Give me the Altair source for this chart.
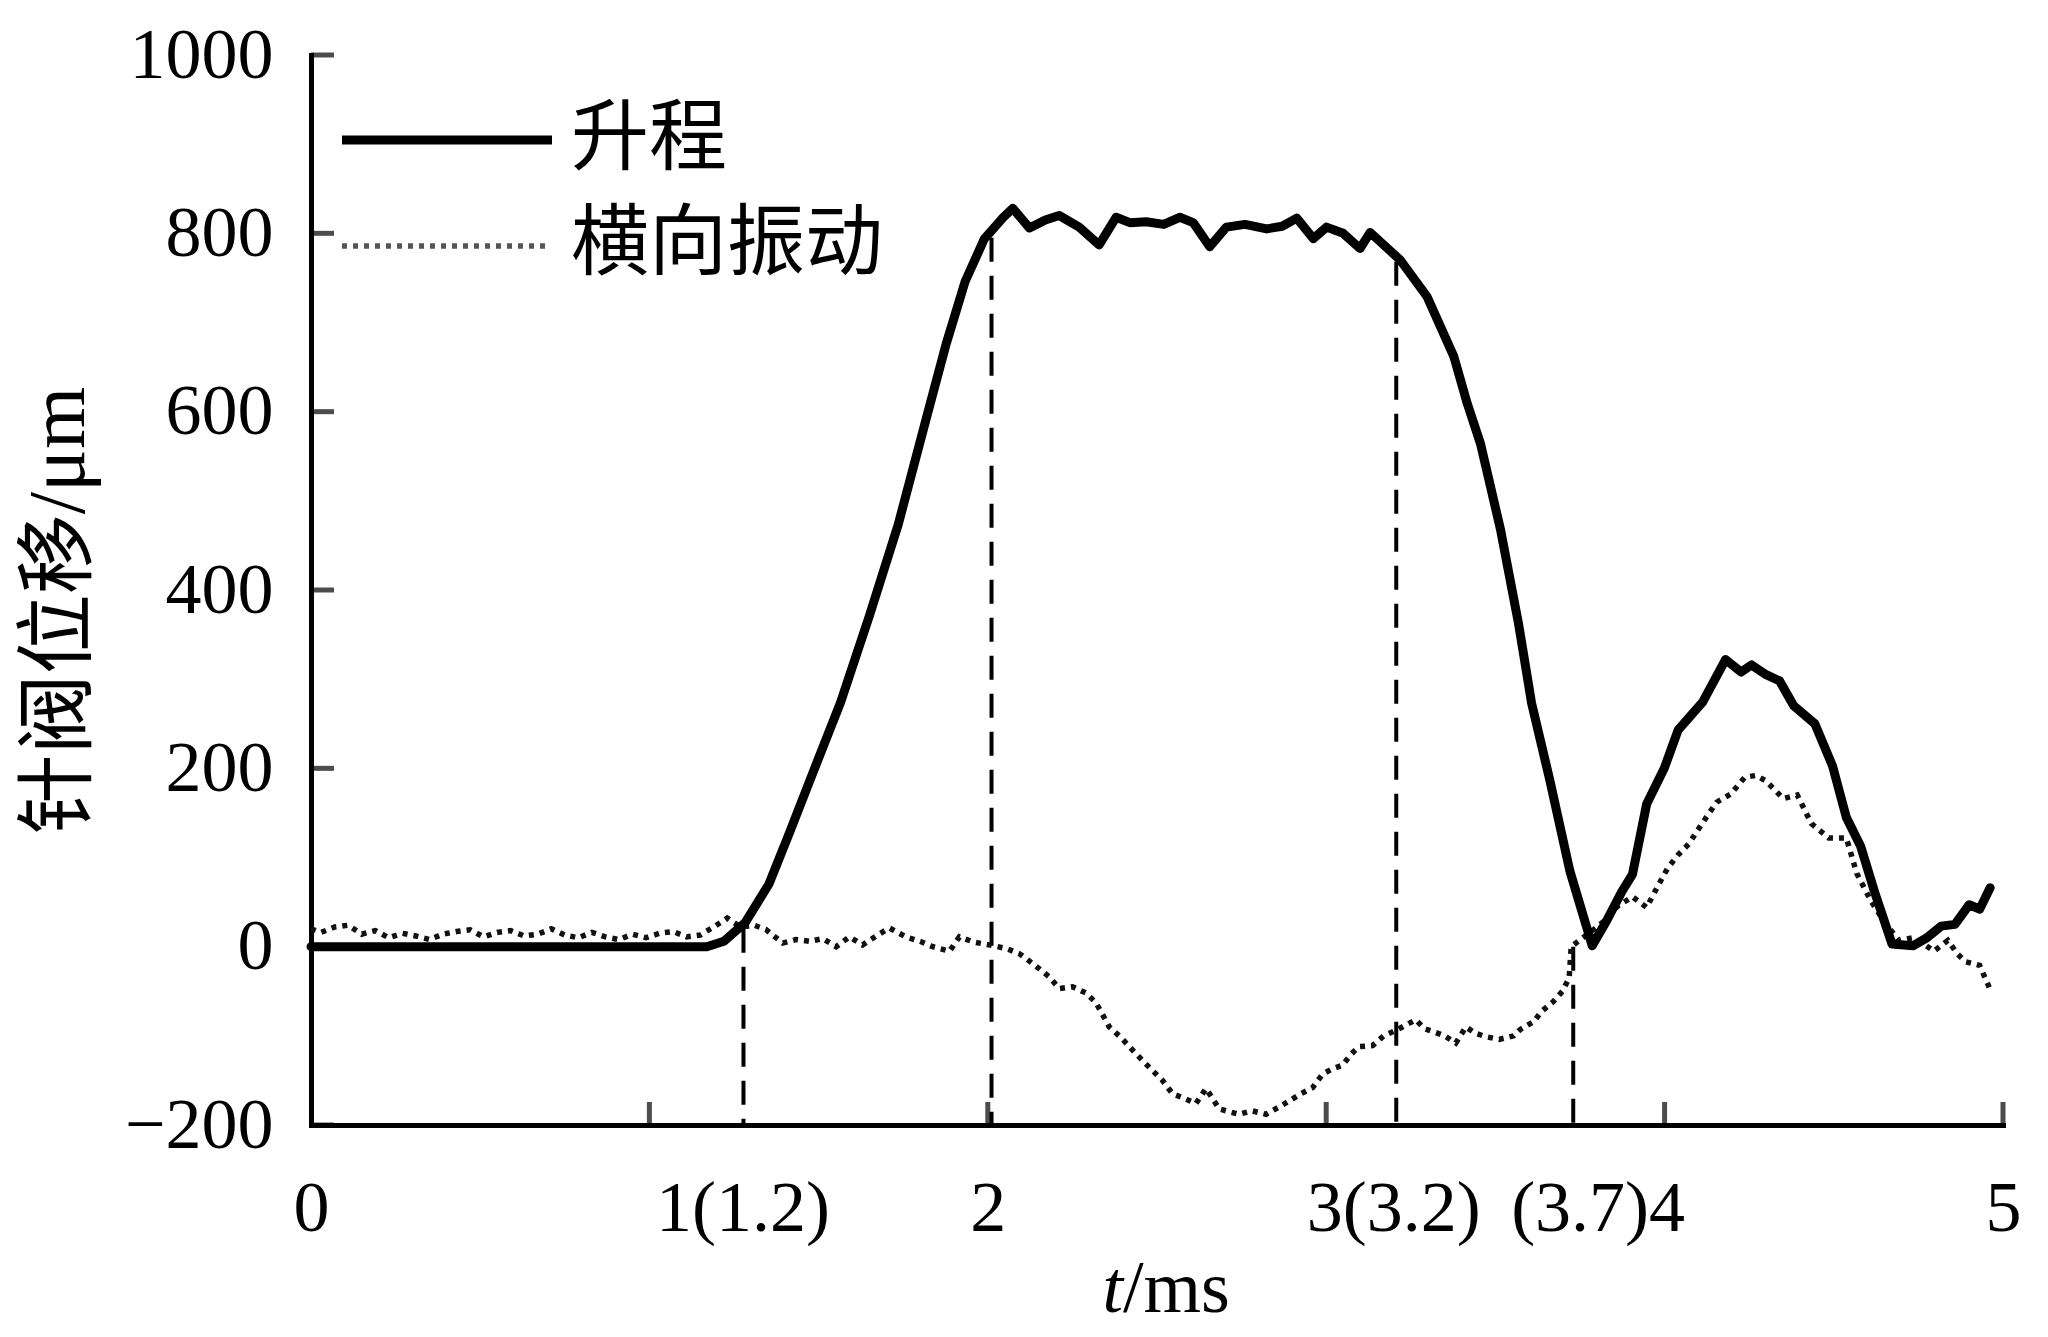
import altair as alt
import pandas as pd

# ---- data ----
lift_t = [0.00, 0.50, 1.00, 1.17, 1.22, 1.283, 1.353, 1.41, 1.481, 1.565, 1.65, 1.735,
          1.82, 1.877, 1.933, 1.99, 2.046, 2.074, 2.123, 2.17, 2.211, 2.27, 2.329, 2.379,
          2.42, 2.468, 2.52, 2.567, 2.607, 2.656, 2.705, 2.76, 2.824, 2.87, 2.913, 2.962,
          3.001, 3.05, 3.10, 3.13, 3.219, 3.298, 3.377, 3.417, 3.456, 3.515, 3.568, 3.607,
          3.66, 3.72, 3.786, 3.83, 3.874, 3.905, 3.947, 3.999, 4.04, 4.112, 4.18, 4.226,
          4.257, 4.30, 4.34, 4.382, 4.444, 4.496, 4.537, 4.579, 4.62, 4.672, 4.734, 4.775,
          4.817, 4.858, 4.90, 4.931, 4.962]
lift_v = [0, 0, 0, 0, 6, 27, 70, 124, 193, 274, 371, 473,
          595, 676, 746, 794, 818, 828, 806, 815, 820, 807, 787, 818,
          812, 813, 810, 818, 812, 785, 807, 810, 805, 808, 817, 794,
          807, 800, 783, 801, 770, 729, 662, 609, 564, 468, 363, 273,
          188, 85, 1, 30, 62, 81, 160, 200, 243, 274, 322, 308,
          316, 305, 298, 270, 250, 203, 145, 113, 62, 3, 1, 10,
          23, 25, 47, 42, 66]

vib_t = [0.00, 0.03, 0.07, 0.11, 0.15, 0.19, 0.23, 0.27, 0.31, 0.35, 0.39, 0.43, 0.47,
         0.51, 0.55, 0.59, 0.63, 0.67, 0.71, 0.75, 0.79, 0.83, 0.87, 0.91, 0.95, 0.99,
         1.03, 1.07, 1.11, 1.15, 1.19, 1.23, 1.27, 1.31, 1.345, 1.394, 1.433, 1.473,
         1.512, 1.552, 1.591, 1.63, 1.67, 1.709, 1.758, 1.80, 1.837, 1.887, 1.916, 1.96,
         2.004, 2.054, 2.094, 2.133, 2.182, 2.211, 2.251, 2.29, 2.32, 2.359, 2.394, 2.428,
         2.458, 2.487, 2.516, 2.546, 2.58, 2.615, 2.645, 2.684, 2.713, 2.743, 2.78, 2.822,
         2.86, 2.891, 2.925, 2.96, 2.989, 3.018, 3.048, 3.075, 3.097, 3.137, 3.17, 3.206,
         3.235, 3.265, 3.29, 3.314, 3.35, 3.383, 3.413, 3.44, 3.472, 3.511, 3.554, 3.573,
         3.614, 3.635, 3.67, 3.698, 3.718, 3.724, 3.762, 3.80, 3.822, 3.86, 3.905, 3.947,
         3.98, 4.009, 4.04, 4.071, 4.112, 4.154, 4.195, 4.237, 4.27, 4.299, 4.351, 4.392,
         4.434, 4.485, 4.537, 4.568, 4.61, 4.651, 4.692, 4.734, 4.766, 4.796, 4.837, 4.865,
         4.89, 4.931, 4.962]
vib_v = [20, 16, 22, 24, 14, 18, 10, 15, 12, 8, 14, 17, 19,
         11, 16, 18, 12, 14, 20, 13, 10, 16, 11, 8, 14, 10,
         15, 17, 11, 13, 22, 32, 22, 24, 19, 4, 8, 6,
         9, 0, 11, 2, 12, 21, 11, 6, 0, -5, 11, 5,
         2, -2, -8, -19, -34, -47, -45, -52, -63, -90, -102, -116,
         -128, -139, -150, -165, -170, -176, -159, -182, -185, -188, -184, -188,
         -180, -173, -165, -158, -143, -137, -133, -120, -112, -111, -100, -94,
         -88, -82, -92, -95, -100, -108, -90, -97, -101, -104, -100, -93,
         -84, -73, -62, -50, -35, 0, 11, 22, 29, 45, 56, 44,
         68, 88, 103, 115, 139, 162, 171, 190, 192, 186, 166, 170,
         138, 122, 122, 82, 51, 27, 7, 10, 3, -5, 7, -8,
         -17, -21, -48]

marker_t = [1.278, 2.011, 3.207, 3.73]
marker_top = [20, 795, 768, 0]
marker_bottom = [-200, -200, -200, -200]

x_tick_values = [0, 1, 2, 3, 4, 5]
x_inner_ticks = [1, 2, 3, 4, 5]
y_tick_values = [-200, 0, 200, 400, 600, 800, 1000]
legend_labels = ["升程", "横向振动"]
y_title = "针阀位移/μm"
x_title_italic = "t"
x_title_rest = "/ms"

# ---- layout / style ----
W, H = 1692, 1070
SERIF = "Liberation Serif"
MIXED = "Liberation Serif, Noto Sans CJK SC"
CJK = "Noto Sans CJK SC"
DOT_COLOR = "#111111"

x_scale = alt.Scale(domain=[0, 5], nice=False, zero=False)
y_scale = alt.Scale(domain=[-200, 1000], nice=False, zero=False)

label_expr = ("datum.value == 1 ? '1(1.2)' : datum.value == 3 ? '3(3.2)' : "
              "datum.value == 4 ? '(3.7)4' : datum.label")

x_axis = alt.Axis(
    values=x_tick_values, labelExpr=label_expr, title=None, grid=False,
    ticks=False, tickSize=0, labelFont=SERIF, labelFontSize=72, labelColor="black",
    labelPadding=105, labelBaseline="alphabetic", labelOverlap=False, labelFlush=False,
    labelAlign={"condition": [{"test": "datum.value == 1", "value": "left"},
                              {"test": "datum.value == 3", "value": "left"},
                              {"test": "datum.value == 4", "value": "right"}],
                "value": "center"},
    labelOffset={"condition": [{"test": "datum.value == 1", "value": 6},
                               {"test": "datum.value == 3", "value": -20},
                               {"test": "datum.value == 4", "value": 20}],
                 "value": 0},
    domainColor="black", domainWidth=5, domainCap="square")

y_axis = alt.Axis(
    values=y_tick_values, format="d", title=y_title, grid=False, ticks=False, tickSize=0,
    labelFont=SERIF, labelFontSize=72, labelColor="black", labelPadding=38,
    labelBaseline="middle", labelOverlap=False, labelFlush=False,
    domainColor="black", domainWidth=5, domainCap="square",
    titleFont=MIXED, titleFontSize=80, titleFontWeight="normal", titleColor="black",
    titleAngle=270, titleX=-252, titleY=555, titleAlign="center", titleBaseline="middle")

lift_df = pd.DataFrame({"t": lift_t, "v": lift_v})
vib_df = pd.DataFrame({"t": vib_t, "v": vib_v})
marker_df = pd.DataFrame({"t": marker_t, "top": marker_top, "bottom": marker_bottom})
xt_df = pd.DataFrame({"t": x_inner_ticks})
yt_df = pd.DataFrame({"v": y_tick_values})

X = alt.X("t:Q", scale=x_scale, axis=x_axis)

markers = alt.Chart(marker_df).mark_rule(
    color="black", strokeWidth=4, strokeDash=[24, 14]
).encode(x=X, y=alt.Y("top:Q", scale=y_scale, axis=y_axis), y2="bottom:Q")

vib_line = alt.Chart(vib_df).mark_line(
    color=DOT_COLOR, strokeWidth=5.5, strokeDash=[5, 6], strokeCap="butt"
).encode(x=X, y=alt.Y("v:Q", scale=y_scale, axis=y_axis), order="t:Q")

lift_line = alt.Chart(lift_df).mark_line(
    color="black", strokeWidth=9, strokeJoin="round", strokeCap="round"
).encode(x=X, y=alt.Y("v:Q", scale=y_scale, axis=y_axis), order="t:Q")

xticks = alt.Chart(xt_df).mark_tick(
    orient="vertical", size=23, thickness=5, color="black"
).encode(x=X, y=alt.value(H - 11.5))

yticks = alt.Chart(yt_df).mark_tick(
    orient="horizontal", size=23, thickness=5, color="black"
).encode(y=alt.Y("v:Q", scale=y_scale, axis=y_axis), x=alt.value(11.5))

leg_solid = alt.Chart(pd.DataFrame({"label": [legend_labels[0]]})).mark_rule(
    color="black", strokeWidth=9
).encode(x=alt.value(31), x2=alt.value(241), y=alt.value(85))

leg_dot = alt.Chart(pd.DataFrame({"label": [legend_labels[1]]})).mark_rule(
    color="#555555", strokeWidth=5.5, strokeDash=[5, 6]
).encode(x=alt.value(31), x2=alt.value(236), y=alt.value(191))

leg_text1 = alt.Chart(pd.DataFrame({"label": [legend_labels[0]]})).mark_text(
    font=CJK, fontSize=78, align="left", baseline="middle", color="black"
).encode(text="label:N", x=alt.value(260), y=alt.value(86))

leg_text2 = alt.Chart(pd.DataFrame({"label": [legend_labels[1]]})).mark_text(
    font=CJK, fontSize=78, align="left", baseline="middle", color="black"
).encode(text="label:N", x=alt.value(260), y=alt.value(191))

xt_italic = alt.Chart(pd.DataFrame({"s": [x_title_italic]})).mark_text(
    font=SERIF, fontStyle="italic", fontSize=74, align="right", baseline="alphabetic",
    color="black"
).encode(text="s:N", x=alt.value(812), y=alt.value(H + 187))

xt_rest = alt.Chart(pd.DataFrame({"s": [x_title_rest]})).mark_text(
    font=SERIF, fontSize=74, align="left", baseline="alphabetic", color="black"
).encode(text="s:N", x=alt.value(812), y=alt.value(H + 187))

chart = alt.layer(
    markers, vib_line, lift_line, xticks, yticks,
    leg_solid, leg_dot, leg_text1, leg_text2, xt_italic, xt_rest
).properties(
    width=W, height=H,
    autosize=alt.AutoSizeParams(type="none"),
    padding={"left": 303, "top": 47, "right": 30, "bottom": 204},
    background="white",
).configure_view(stroke=None)

chart.save("out.html", embed_options={"renderer": "svg", "actions": False})
